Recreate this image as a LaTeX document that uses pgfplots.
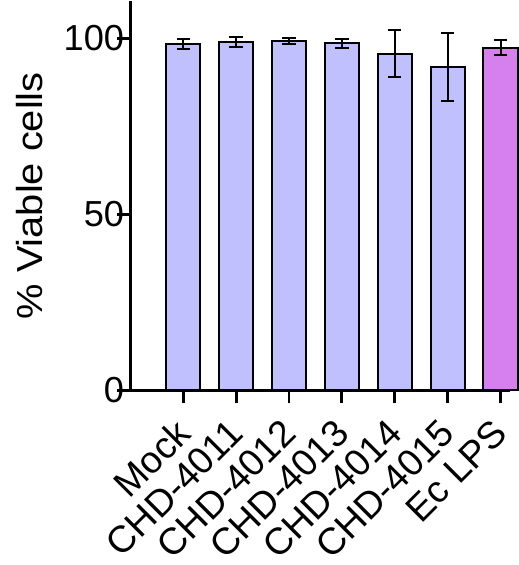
\documentclass[border=0pt]{standalone}
\usepackage{pgfplots}
\pgfplotsset{compat=1.18}
\usepackage{fontspec}
\usepackage{graphicx}
\setmainfont{Liberation Sans}
\definecolor{lav}{RGB}{192,192,255}
\definecolor{vio}{RGB}{214,128,238}
\begin{document}
\begin{tikzpicture}
\begin{axis}[
  scale only axis, width=283pt, height=290pt,
  xmin=-1.0, xmax=6.17, ymin=0, ymax=110.5,
  axis lines=left, axis line style={line width=2.2pt, -},
  xtick={0,1,2,3,4,5,6},
  xticklabels={Mock,CHD-4011,CHD-4012,CHD-4013,CHD-4014,CHD-4015,Ec LPS},
  ytick={0,50,100},
  tick style={line width=2.2pt, black},
  tick align=outside, major tick length=10pt,
  /pgf/number format/assume math mode=true,
  y tick label style={font=\fontsize{27}{30}\selectfont, inner sep=3pt, xshift=8.5pt},
  x tick label style={font=\fontsize{28}{31}\selectfont, rotate=45, anchor=north east, inner sep=2pt, xshift=-10pt, yshift=0pt},
  ylabel={\scalebox{1.1}[1]{\% Viable cells}},
  ylabel style={font=\fontsize{27}{30}\selectfont, inner ysep=12pt, yshift=0.5pt},
  ybar, bar width=25.5pt,
  error bars/error bar style={line width=1.5pt, black},
  error bars/error mark options={rotate=90, mark size=5pt, line width=1.5pt, black},
  clip=false,
]
\addplot[ybar, bar width=25.5pt, bar shift=0pt, draw=black, line width=1.5pt, fill=lav, error bars/.cd, y dir=both, y explicit] coordinates {
  (0,98.4) +- (0,1.5)
  (1,98.9) +- (0,1.4)
  (2,99.2) +- (0,0.8)
  (3,98.6) +- (0,1.3)
  (4,95.7) +- (0,6.8)
  (5,91.8) +- (0,9.7)
};
\addplot[ybar, bar width=25.5pt, bar shift=0pt, draw=black, line width=1.5pt, fill=vio, error bars/.cd, y dir=both, y explicit] coordinates {
  (6,97.4) +- (0,2.2)
};
\end{axis}
\end{tikzpicture}
\end{document}
